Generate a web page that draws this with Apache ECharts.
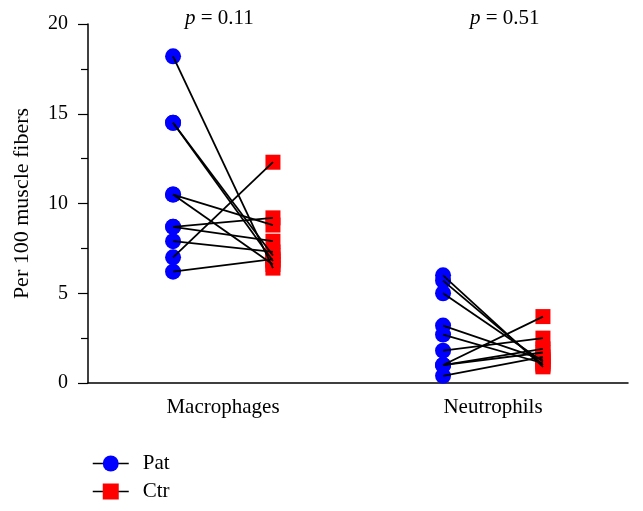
<!DOCTYPE html>
<html>
<head>
<meta charset="utf-8">
<script src="https://cdn.jsdelivr.net/npm/echarts@6/dist/echarts.min.js"></script>
<style>html,body{margin:0;padding:0;background:#fff}#c{width:643px;height:511px}</style>
</head>
<body>
<div id="c"></div>
<script>
var categories = ['Macrophages', 'Neutrophils'];
var pValues = ['0.11', '0.51'];
var macPat = [18.2, 14.5, 14.5, 10.5, 10.5, 8.7, 8.7, 7.9, 7.0, 6.2];
var macCtr = [6.4, 7.1, 6.8, 8.8, 6.6, 9.2, 7.9, 7.3, 12.3, 6.9];
var neuPat = [6.0, 5.7, 5.0, 3.2, 2.7, 1.8, 1.0, 1.0, 1.0, 0.4];
var neuCtr = [0.9, 1.0, 1.2, 1.3, 1.1, 2.5, 3.7, 1.9, 1.7, 1.45];
var yTicks = [0, 5, 10, 15, 20];

var FONT = 'Liberation Serif';
var groups = [{pat: macPat, ctr: macCtr}, {pat: neuPat, ctr: neuCtr}];
var centers = [1, 3];
var off = 0.37;

var patData = [], ctrData = [], lineData = [];
groups.forEach(function (g, gi) {
  var c = centers[gi];
  g.pat.forEach(function (v, i) {
    patData.push([c - off, v]);
    ctrData.push([c + off, g.ctr[i]]);
    lineData.push({coords: [[c - off, v], [c + off, g.ctr[i]]]});
  });
});

var chart = echarts.init(document.getElementById('c'), null, {renderer: 'canvas'});
chart.setOption({
  animation: false,
  backgroundColor: '#fff',
  grid: {left: 88, right: 15, top: 24, bottom: 128, containLabel: false},
  xAxis: {
    type: 'value', min: 0, max: 4, interval: 1,
    axisLine: {show: true, onZero: false, lineStyle: {color: '#000', width: 1.5}},
    axisTick: {show: false},
    splitLine: {show: false},
    axisLabel: {
      margin: 14, color: '#000', fontFamily: FONT, fontSize: 21,
      showMinLabel: false, showMaxLabel: false,
      formatter: function (v) {
        var i = centers.indexOf(v);
        return i >= 0 ? categories[i] : '';
      }
    }
  },
  yAxis: {
    type: 'value', min: 0, max: 20, interval: 5,
    name: 'Per 100 muscle fibers', nameLocation: 'middle', nameGap: 55,
    nameTextStyle: {color: '#000', fontFamily: FONT, fontSize: 22},
    axisLine: {show: true, lineStyle: {color: '#000', width: 1.5}},
    axisTick: {show: true, length: 10, lineStyle: {color: '#000', width: 1.2}},
    minorTick: {show: true, splitNumber: 2, length: 7, lineStyle: {color: '#000', width: 1.2}},
    splitLine: {show: false},
    axisLabel: {margin: 20, color: '#000', fontFamily: FONT, fontSize: 20,
      formatter: function (v) { return yTicks.indexOf(v) >= 0 ? String(v) : ''; }}
  },
  legend: {
    orient: 'vertical', left: 92, top: 453, padding: 0,
    itemWidth: 36, itemHeight: 20, itemGap: 7,
    textStyle: {color: '#000', fontFamily: FONT, fontSize: 21, padding: [0, 0, 0, 9]},
    lineStyle: {color: '#000', width: 1.5, opacity: 1},
    data: ['Pat', 'Ctr']
  },
  graphic: centers.map(function (c, i) {
    return {
      type: 'text', left: (i === 0 ? 185 : 470), top: 8,
      style: {
        rich: {
          i: {fontFamily: FONT, fontStyle: 'italic', fontSize: 21, fill: '#000'},
          n: {fontFamily: FONT, fontSize: 21, fill: '#000'}
        },
        text: '{i|p}{n| = ' + pValues[i] + '}'
      }
    };
  }),
  series: [
    {name: 'Pat', type: 'line', data: patData, symbol: 'circle', symbolSize: 16,
      lineStyle: {width: 0, opacity: 0}, itemStyle: {color: '#0000ff'}, z: 2},
    {name: 'Ctr', type: 'line', data: ctrData, symbol: 'rect', symbolSize: 15,
      lineStyle: {width: 0, opacity: 0}, itemStyle: {color: '#ff0000'}, z: 2},
    {type: 'lines', coordinateSystem: 'cartesian2d', data: lineData, z: 5,
      lineStyle: {color: '#000', width: 1.8, opacity: 1}}
  ]
});
</script>
</body>
</html>
